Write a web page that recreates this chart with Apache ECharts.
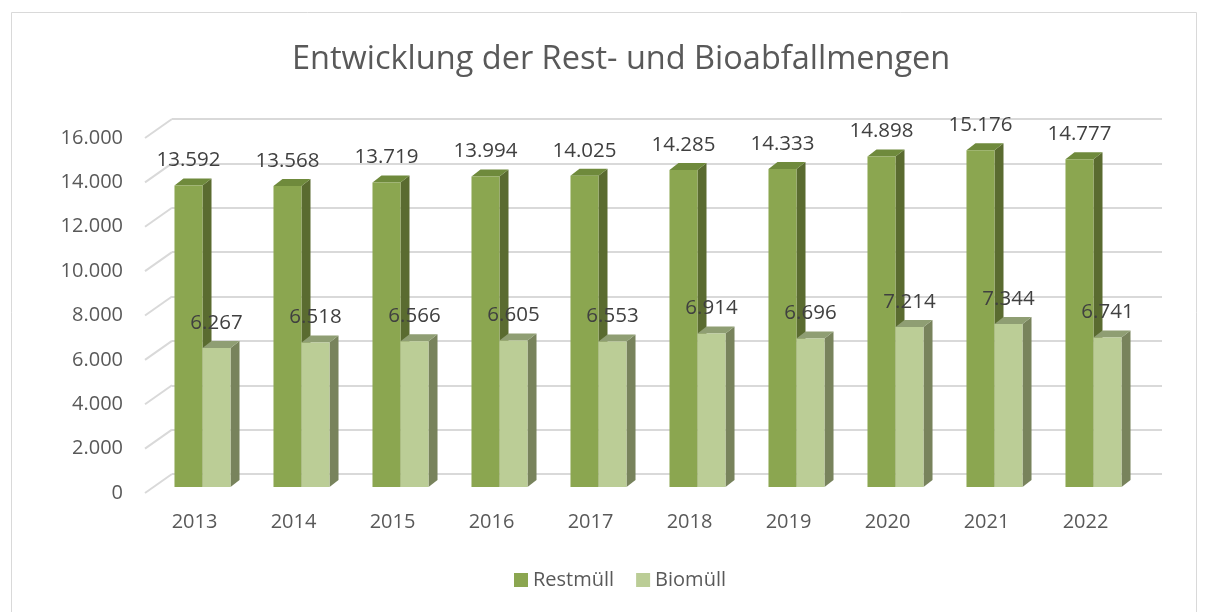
<!DOCTYPE html>
<html>
<head>
<meta charset="utf-8">
<script src="https://cdn.jsdelivr.net/npm/echarts@6/dist/echarts.min.js"></script>
<style>
  html, body { margin: 0; padding: 0; background: #fff; }
  #chart { width: 1208px; height: 612px; }
</style>
</head>
<body>
<div id="chart"></div>
<script>
// Daten
const years = ['2013', '2014', '2015', '2016', '2017', '2018', '2019', '2020', '2021', '2022'];
const restmuell = [13592, 13568, 13719, 13994, 14025, 14285, 14333, 14898, 15176, 14777];
const biomuell = [6267, 6518, 6566, 6605, 6553, 6914, 6696, 7214, 7344, 6741];
const yTicks = [0, 2000, 4000, 6000, 8000, 10000, 12000, 14000, 16000];

// 3D-Optik
const wallDx = 27, wallDy = -19;   // Rückwand
const barDx = 8, barDy = -6;       // Ebene der Säulen
const depthDx = 9, depthDy = -7;   // Säulentiefe
const barRatio = 0.283;
const fontName = '"Open Sans", "Liberation Sans", sans-serif';

const colors = {
  rest: { front: '#8BA650', top: '#6F8A3C', side: '#5A6B30' },
  bio: { front: '#BBCD96', top: '#8F9E73', side: '#78835C' }
};

function fmt(v) {
  return String(v).replace(/\B(?=(\d{3})+(?!\d))/g, '.');
}

function barRenderer(c, left) {
  return function (params, api) {
    const cat = api.value(0);
    const val = api.value(1);
    const base = api.coord([cat, 0]);
    const top = api.coord([cat, val]);
    const w = api.size([1, 0])[0] * barRatio;
    const x0 = (left ? base[0] - w : base[0]) + barDx;
    const x1 = x0 + w;
    const yb = base[1] + barDy;
    const yt = top[1] + barDy;
    return {
      type: 'group',
      children: [
        {
          type: 'polygon',
          shape: { points: [[x1, yt], [x1 + depthDx, yt + depthDy], [x1 + depthDx, yb + depthDy], [x1, yb]] },
          style: { fill: c.side }
        },
        {
          type: 'polygon',
          shape: { points: [[x0, yt], [x0 + depthDx, yt + depthDy], [x1 + depthDx, yt + depthDy], [x1, yt]] },
          style: { fill: c.top }
        },
        {
          type: 'rect',
          shape: { x: x0, y: yt, width: w, height: yb - yt },
          style: { fill: c.front }
        },
        {
          type: 'text',
          style: {
            text: fmt(val),
            x: (x0 + x1) / 2,
            y: yt - 25,
            align: 'center',
            verticalAlign: 'middle',
            fill: '#404040',
            font: '20.5px ' + fontName
          },
          z2: 10
        }
      ]
    };
  };
}

const chart = echarts.init(document.getElementById('chart'));

const option = {
  animation: false,
  backgroundColor: '#fff',
  textStyle: { fontFamily: fontName },
  graphic: [{
    type: 'rect',
    shape: { x: 11.5, y: 12.5, width: 1185, height: 640 },
    style: { fill: 'none', stroke: '#d9d9d9', lineWidth: 1 },
    silent: true
  }],
  title: {
    text: 'Entwicklung der Rest- und Bioabfallmengen',
    left: 287,
    top: 38,
    textStyle: { fontSize: 32.5, fontWeight: 'normal', color: '#595959', fontFamily: fontName }
  },
  legend: {
    bottom: 17,
    left: 509,
    itemWidth: 14,
    itemHeight: 14,
    itemGap: 22,
    icon: 'rect',
    textStyle: { fontSize: 20, color: '#595959', fontFamily: fontName },
    data: ['Restmüll', 'Biomüll']
  },
  grid: [
    { left: 145, right: 73, top: 138, bottom: 119 },
    { left: 145 + wallDx, right: 73 - wallDx, top: 138 + wallDy, bottom: 119 - wallDy }
  ],
  xAxis: [
    {
      type: 'category', gridIndex: 0, data: years,
      axisLine: { show: false }, axisTick: { show: false },
      axisLabel: { fontSize: 20, color: '#595959', margin: 19, fontFamily: fontName }
    },
    {
      type: 'category', gridIndex: 1, data: years, show: false
    }
  ],
  yAxis: [
    {
      type: 'value', gridIndex: 0, min: 0, max: 16000, interval: 2000,
      axisLine: { show: false }, axisTick: { show: false }, splitLine: { show: false },
      axisLabel: { fontSize: 20, color: '#595959', margin: 22, formatter: fmt, fontFamily: fontName }
    },
    {
      type: 'value', gridIndex: 1, min: 0, max: 16000, interval: 2000,
      axisLine: { show: false }, axisTick: { show: false }, axisLabel: { show: false },
      splitLine: { show: true, lineStyle: { color: '#d9d9d9', width: 2 } }
    }
  ],
  series: [
    {
      type: 'custom',
      name: 'wall',
      xAxisIndex: 0, yAxisIndex: 0,
      silent: true,
      z: 1,
      data: yTicks.map(v => [0, v]),
      renderItem: function (params, api) {
        const p = api.coord([0, api.value(1)]);
        const x = params.coordSys.x;
        return {
          type: 'line',
          shape: { x1: x, y1: p[1], x2: x + wallDx, y2: p[1] + wallDy },
          style: { stroke: '#d9d9d9', lineWidth: 2 }
        };
      }
    },
    {
      type: 'custom',
      name: 'Restmüll',
      xAxisIndex: 0, yAxisIndex: 0,
      z: 3,
      itemStyle: { color: colors.rest.front },
      data: restmuell.map((v, i) => [i, v]),
      renderItem: barRenderer(colors.rest, true)
    },
    {
      type: 'custom',
      name: 'Biomüll',
      xAxisIndex: 0, yAxisIndex: 0,
      z: 3,
      itemStyle: { color: colors.bio.front },
      data: biomuell.map((v, i) => [i, v]),
      renderItem: barRenderer(colors.bio, false)
    }
  ]
};

chart.setOption(option);
</script>
</body>
</html>
